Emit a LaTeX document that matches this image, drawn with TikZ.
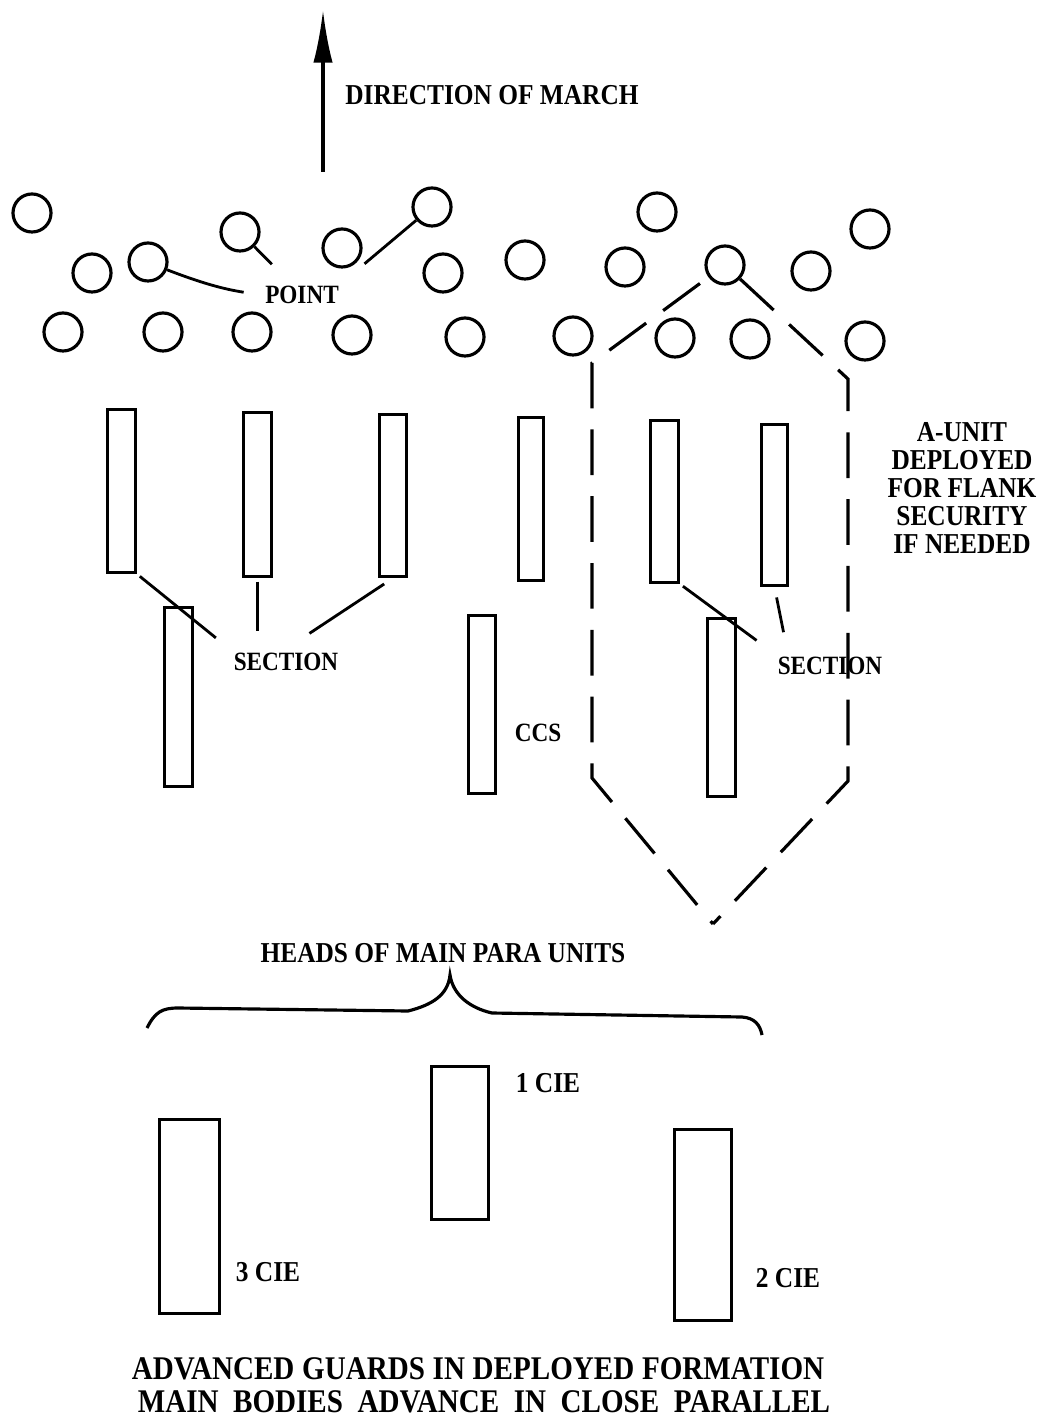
\documentclass[tikz,border=0pt]{standalone}
\usepackage{fontspec}
\setmainfont{Liberation Serif}[FakeStretch=0.88]
\usetikzlibrary{arrows.meta,calc}
\tikzset{
  man/.style={circle, draw, line width=0.9pt, minimum size=0.38cm, inner sep=0pt},
  unit/.style={rectangle, draw, line width=0.9pt, inner sep=0pt},
  leader/.style={line width=0.8pt},
  flank/.style={line width=0.9pt, dash pattern=on 13pt off 6pt},
  lbl/.style={font=\bfseries\fontsize{7.5}{9}\selectfont, inner sep=1pt},
  big/.style={font=\bfseries\fontsize{8.2}{8.2}\selectfont, inner sep=1pt, align=center},
  title/.style={font=\bfseries\fontsize{9.4}{9.6}\selectfont, inner sep=1pt}
}
\begin{document}
\begin{tikzpicture}[x=0.01cm, y=-0.01cm]
        \useasboundingbox (0,0) rectangle (1050,1422);

        % direction of march
        \coordinate (tail) at (323,172);
        \coordinate (tip) at (323,10);
        \draw[-{Latex[length=15pt,width=5.5pt]}, line width=0.9pt] (tail) -- (tip);
        \node[big] (march) at (492,95) {DIRECTION OF MARCH};

        % point men, left group
        \node[man] (p1) at (32,213) {};
        \node[man] (p2) at (92,273) {};
        \node[man] (p3) at (148,262) {};
        \node[man] (p4) at (240,232) {};
        \node[man] (p5) at (342,248) {};
        \node[man] (p6) at (432,207) {};
        \node[man] (p7) at (443,273) {};
        \node[man] (p8) at (525,260) {};
        \node[man] (p9) at (63,332) {};
        \node[man] (p10) at (163,332) {};
        \node[man] (p11) at (252,332) {};
        \node[man] (p12) at (352,335) {};
        \node[man] (p13) at (465,337) {};
        % point men, right group
        \node[man] (q1) at (657,212) {};
        \node[man] (q2) at (625,267) {};
        \node[man] (q3) at (725,265) {};
        \node[man] (q4) at (811,271) {};
        \node[man] (q5) at (870,229) {};
        \node[man] (q6) at (573,336) {};
        \node[man] (q7) at (675,338) {};
        \node[man] (q8) at (750,339) {};
        \node[man] (q9) at (865,341) {};

        \node[lbl] (point) at (302,295) {POINT};
        \draw[leader, shorten >=5pt] (p3) to[bend right=6] (point.west);
        \draw[leader, shorten >=7pt] (p4) -- (point);
        \draw[leader, shorten >=8pt] (p6) -- (point.north east);

        % sections
        \node[unit, minimum width=0.28cm, minimum height=1.63cm] (s1) at (121.5,491) {};
        \node[unit, minimum width=0.28cm, minimum height=1.64cm] (s2) at (257.5,494.5) {};
        \node[unit, minimum width=0.27cm, minimum height=1.62cm] (s3) at (393,495.5) {};
        \node[unit, minimum width=0.25cm, minimum height=1.63cm] (s4) at (531,499) {};
        \node[unit, minimum width=0.28cm, minimum height=1.62cm] (s5) at (664.5,501.5) {};
        \node[unit, minimum width=0.26cm, minimum height=1.61cm] (s6) at (774.5,505) {};
        \node[unit, minimum width=0.28cm, minimum height=1.79cm] (s7) at (178.5,697) {};
        \node[unit, minimum width=0.27cm, minimum height=1.78cm] (ccs) at (482,704.5) {};
        \node[unit, minimum width=0.28cm, minimum height=1.78cm] (s9) at (721.5,707.5) {};

        \node[lbl] (secL) at (286,662) {SECTION};
        \node[lbl] (secR) at (830,666) {SECTION};
        \node[lbl] (ccsL) at (538,733) {CCS};
        \draw[leader, shorten <=1pt, shorten >=5pt] (s1.south east) -- (secL.north west);
        \draw[leader, shorten <=1pt, shorten >=5pt] (s2.south) -- (s2.south |- secL.north);
        \draw[leader, shorten <=3pt, shorten >=8pt] (s3.south) -- (secL.north);
        \draw[leader, shorten <=1pt, shorten >=6pt] (s5.south east) -- (secR.north west);
        \draw[leader, shorten <=3pt, shorten >=6pt] (s6.south) -- ($(secR.north west)!0.25!(secR.north)$);

        % A-unit on the flank
        \coordinate (fl1) at (592,363);
        \coordinate (fl2) at (592,778);
        \coordinate (apex) at (713,924);
        \coordinate (fr2) at (848,781);
        \coordinate (fr1) at (848,379);
        \draw[flank, shorten <=3pt] (q3) -- (fl1) -- (fl2) -- (apex);
        \draw[flank] (q3) -- (fr1) -- (fr2) -- (apex);
        \node[big, font=\bfseries\fontsize{8.2}{8}\selectfont] (aunit) at (962,488) {A-UNIT\\DEPLOYED\\FOR FLANK\\SECURITY\\IF NEEDED};

        % heads of main units
        \node[big] (heads) at (443,953) {HEADS OF MAIN PARA UNITS};
        \draw[line width=0.9pt] (147,1028) .. controls (155,1012) and (162,1008) .. (178,1008)
            -- (408,1011) .. controls (432,1005) and (448,995) .. (450,975)
            .. controls (453,995) and (470,1008) .. (492,1013)
            -- (742,1017) .. controls (755,1018) and (760,1025) .. (762,1035);

        \node[unit, minimum width=0.60cm, minimum height=1.94cm] (cie3) at (189.5,1216.5) {};
        \node[unit, minimum width=0.57cm, minimum height=1.53cm] (cie1) at (460,1143) {};
        \node[unit, minimum width=0.57cm, minimum height=1.91cm] (cie2) at (703,1225) {};
        \node[big] (cie1L) at (548,1083) {1 CIE};
        \node[big] (cie3L) at (268,1272) {3 CIE};
        \node[big] (cie2L) at (788,1278) {2 CIE};

        % caption
        \node[title] (cap1) at (478,1369) {\makebox[6.92cm][s]{ADVANCED GUARDS IN DEPLOYED FORMATION}};
        \node[title] (cap2) at (484,1402) {\makebox[6.92cm][s]{MAIN BODIES ADVANCE IN CLOSE PARALLEL}};
    \end{tikzpicture}
\end{document}
